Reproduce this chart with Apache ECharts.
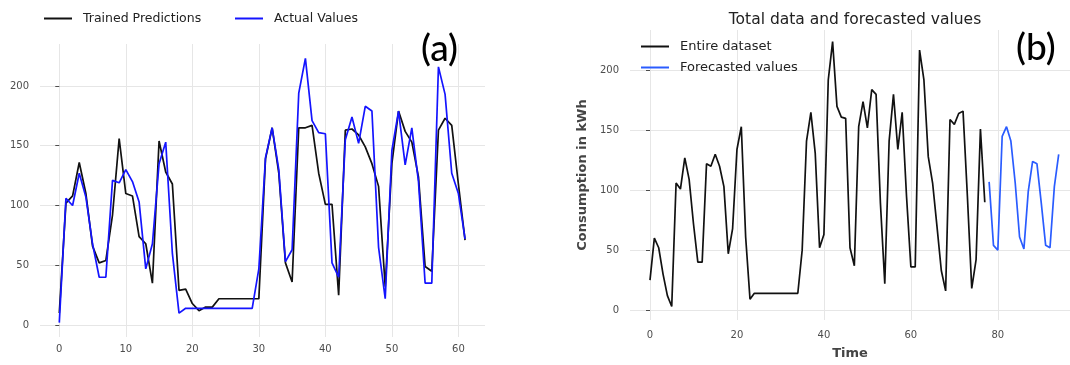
<!DOCTYPE html>
<html>
<head>
<meta charset="utf-8">
<script src="https://cdn.jsdelivr.net/npm/echarts@6/dist/echarts.min.js"></script>
<style>
html,body{margin:0;padding:0;background:#fff;}
#c{width:1070px;height:365px;}
</style>
</head>
<body>
<div id="c"></div>
<script>
// ---- Panel (a) data ----
const trainedPredictions = [10,102,108,136,110,66,52,54,92,156,110,108,74,68,35,154,128,118,29,30,18,12,15,15,22,22,22,22,22,22,22,139,165,127,52,36,165,165,167,127,101,101,25,163,164,159,149,135,116,32,135,179,162,153,124,49,45,163,173,167,118,71];
const actualValues = [2,106,100,127,107,68,40,40,121,119,130,120,103,47,68,135,153,60,10,14,14,14,14,14,14,14,14,14,14,14,47,140,165,130,53,63,194,223,171,161,160,52,40,155,174,152,183,179,65,22,146,179,134,165,120,35,35,216,193,127,110,72];
// ---- Panel (b) data ----
const entireDataset = [25,60,52,30,12,3,106,101,127,109,72,40,40,122,120,130,120,103,47,68,134,153,61,9,14,14,14,14,14,14,14,14,14,14,14,50,141,165,131,52,63,192,224,170,161,160,52,37,153,174,152,184,180,89,22,141,180,134,165,95,36,36,217,192,128,106,70,33,16,159,155,164,166,95,18,42,151,90];
const forecastStart = 78;
const forecastedValues = [107,54,50,145,153,141,106,61,51,99,124,122,89,54,52,103,130];
// ---- tick labels ----
const yTicks = [0,50,100,150,200];
const xTicksA = [0,10,20,30,40,50,60];
const xTicksB = [0,20,40,60,80];

const toPairs = (arr, start) => arr.map((v,i)=>[i+(start||0), v]);

const font = 'DejaVu Sans';
const gridColor = '#e6e6e6';
const tickColor = '#4d4d4d';

function yAxisCfg(gridIndex, min, max, extra){
  return Object.assign({
    type:'value', gridIndex, min, max,
    axisLine:{show:false},
    axisTick:{show:true, length:4, lineStyle:{color:tickColor,width:1}, customValues: yTicks},
    axisLabel:{fontFamily:font, fontSize:10, color:tickColor, margin:11, customValues: yTicks},
    splitLine:{show:true, lineStyle:{color:gridColor,width:1}}
  }, extra||{});
}
function xAxisCfg(gridIndex, min, max, ticks, margin, extra){
  return Object.assign({
    type:'value', gridIndex, min, max,
    axisLine:{show:false},
    axisTick:{show:false, customValues: ticks},
    axisLabel:{fontFamily:font, fontSize:10, color:tickColor, margin, customValues: ticks},
    splitLine:{show:true, lineStyle:{color:gridColor,width:1}}
  }, extra||{});
}

const chart = echarts.init(document.getElementById('c'), null, {renderer:'canvas'});
const legendText = {fontFamily:font, fontSize:12.5, color:'#222', padding:[0,0,0,6]};
const legendCommon = {itemWidth:28, itemHeight:2, icon:'rect', selectedMode:false, textStyle:legendText, padding:0};

chart.setOption({
  animation:false,
  backgroundColor:'#fff',
  title:{
    text:'Total data and forecasted values',
    left:850, top:7, textAlign:'center',
    textStyle:{fontFamily:font, fontSize:15.5, fontWeight:'normal', color:'#222'}
  },
  grid:[
    {left:40, top:44, width:445, height:293},
    {left:630, top:30, width:440, height:290}
  ],
  xAxis:[
    xAxisCfg(0, -2.9, 64.0, xTicksA, 7),
    xAxisCfg(1, -4.6, 96.6, xTicksB, 10, {
      name:'Time', nameLocation:'middle', nameGap:27,
      nameTextStyle:{fontFamily:font, fontSize:13, fontWeight:'bold', color:'#444'}
    })
  ],
  yAxis:[
    yAxisCfg(0, -10.0, 235.1),
    yAxisCfg(1, -8.3, 233.7, {
      name:'Consumption in kWh', nameLocation:'middle', nameGap:41,
      nameTextStyle:{fontFamily:font, fontSize:13, fontWeight:'bold', color:'#444'}
    })
  ],
  legend:[
    Object.assign({left:44, top:12, data:['Trained Predictions']}, legendCommon),
    Object.assign({left:235, top:12, data:['Actual Values']}, legendCommon),
    Object.assign({left:641, top:40, data:['Entire dataset']}, legendCommon, {textStyle:Object.assign({},legendText,{fontSize:13})}),
    Object.assign({left:641, top:61, data:['Forecasted values']}, legendCommon, {textStyle:Object.assign({},legendText,{fontSize:13})})
  ],
  series:[
    {name:'Trained Predictions', type:'line', xAxisIndex:0, yAxisIndex:0, data:toPairs(trainedPredictions),
      showSymbol:false, color:'#111', lineStyle:{width:1.7, color:'#111'}},
    {name:'Actual Values', type:'line', xAxisIndex:0, yAxisIndex:0, data:toPairs(actualValues),
      showSymbol:false, color:'#1414ff', lineStyle:{width:1.7, color:'#1414ff'}},
    {name:'Entire dataset', type:'line', xAxisIndex:1, yAxisIndex:1, data:toPairs(entireDataset),
      showSymbol:false, color:'#111', lineStyle:{width:1.7, color:'#111'}},
    {name:'Forecasted values', type:'line', xAxisIndex:1, yAxisIndex:1, data:toPairs(forecastedValues, forecastStart),
      showSymbol:false, color:'#2a5cff', lineStyle:{width:1.7, color:'#2a5cff'}}
  ],
  graphic:[
    {type:'text', left:421, top:31, style:{text:'(a)', fontFamily:'Lato', fontSize:37, fontWeight:500, fill:'#000'}},
    {type:'text', left:1016, top:30, style:{text:'(b)', fontFamily:'Lato', fontSize:37, fontWeight:500, fill:'#000'}}
  ]
});
</script>
</body>
</html>
